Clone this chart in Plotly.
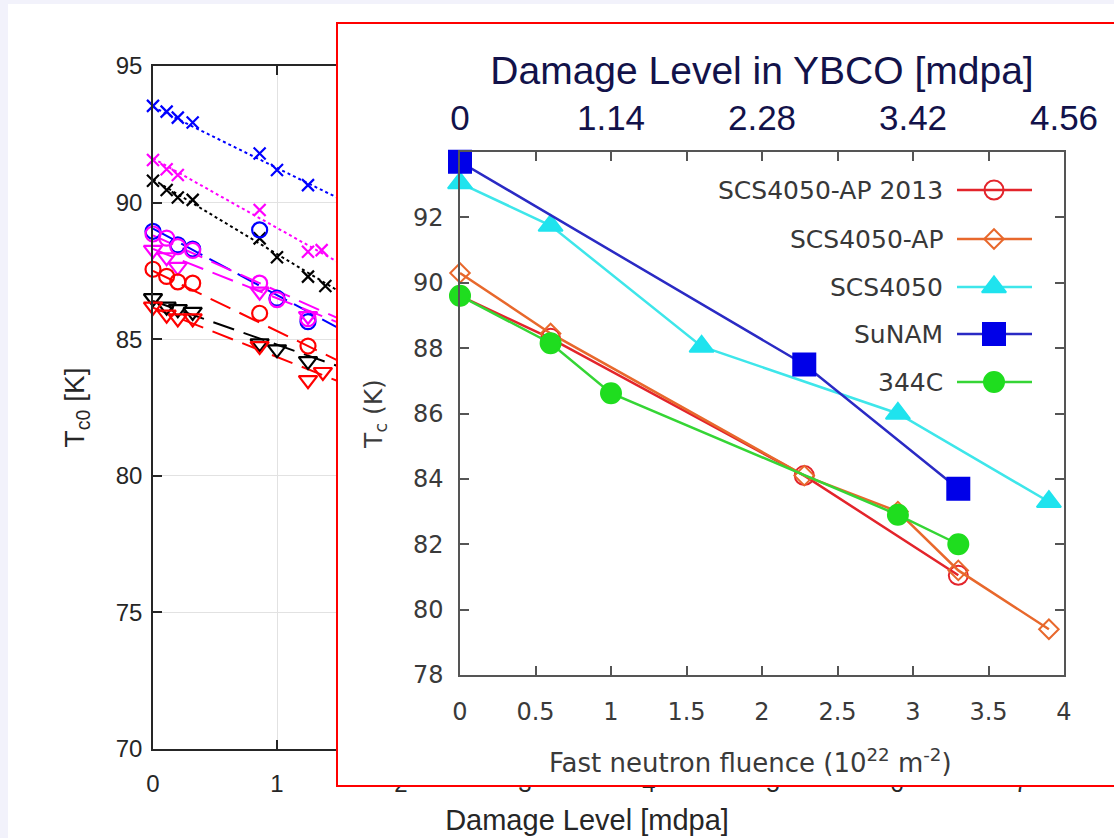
import plotly.graph_objects as go

W, H = 1114, 838

# ---------------- background chart (damage level vs Tc0) ----------------
main_x_ticks = [0, 1, 2, 3, 4, 5, 6, 7]
main_y_ticks = [70, 75, 80, 85, 90, 95]

bx_x = [0, 0.11, 0.2, 0.32, 0.86, 1.0, 1.25]
bx_y = [93.54, 93.33, 93.11, 92.93, 91.80, 91.19, 90.64]
mx_x = [0, 0.11, 0.2, 0.86, 1.25, 1.36]
mx_y = [91.56, 91.22, 91.01, 89.73, 88.2, 88.26]
kx_x = [0, 0.11, 0.2, 0.32, 0.86, 1.0, 1.25, 1.39]
kx_y = [90.80, 90.46, 90.19, 90.10, 88.69, 88.0, 87.29, 86.95]
bo_x = [0, 0.2, 0.32, 0.86, 1.0, 1.25]
bo_y = [88.95, 88.45, 88.3, 89.0, 86.5, 85.64]
mo_x = [0, 0.11, 0.2, 0.32, 0.86, 1.0, 1.25]
mo_y = [88.85, 88.7, 88.39, 88.25, 87.05, 86.45, 85.75]
mv_x = [0, 0.11, 0.2, 0.86, 1.25]
mv_y = [88.27, 88.0, 87.65, 86.74, 85.85]
ro_x = [0, 0.11, 0.2, 0.32, 0.86, 1.25]
ro_y = [87.56, 87.3, 87.1, 87.05, 85.95, 84.75]
kv_x = [0, 0.11, 0.2, 0.32, 0.86, 1.0, 1.25]
kv_y = [86.5, 86.19, 86.1, 86.0, 84.85, 84.63, 84.2]
rv_x = [0, 0.11, 0.2, 0.32, 0.86, 1.25, 1.37]
rv_y = [86.19, 85.9, 85.76, 85.76, 84.75, 83.5, 83.8]

# fitted trend lines (start/end)
fit_x = [0, 1.5]
bx_fit = [93.5, 90.15]
mx_fit = [91.62, 87.8]
kx_fit = [90.85, 86.75]
bo_fit = [89.05, 85.4]
mo_fit = [88.8, 85.75]
mv_fit = [88.3, 85.6]
ro_fit = [87.5, 84.2]
kv_fit = [86.4, 84.0]
rv_fit = [86.15, 83.45]

# ---------------- inset chart (fluence vs Tc) ----------------
inset_names = ["SCS4050-AP 2013", "SCS4050-AP", "SCS4050", "SuNAM", "344C"]
ap13_x = [0, 0.6, 2.28, 3.3]
ap13_y = [89.6, 88.3, 84.1, 81.05]
ap_x = [0, 0.6, 2.28, 2.9, 3.3, 3.9]
ap_y = [90.3, 88.45, 84.1, 83.0, 81.2, 79.4]
scs_x = [0, 0.6, 1.6, 2.9, 3.9]
scs_y = [93.05, 91.75, 88.05, 86.0, 83.3]
sunam_x = [0, 2.28, 3.3]
sunam_y = [93.7, 87.5, 83.7]
c344_x = [0, 0.6, 1.0, 2.9, 3.3]
c344_y = [89.6, 88.15, 86.62, 82.9, 82.0]

inset_x_ticks = [0, 0.5, 1, 1.5, 2, 2.5, 3, 3.5, 4]
inset_x_labels = ["0", "0.5", "1", "1.5", "2", "2.5", "3", "3.5", "4"]
inset_y_ticks = [78, 80, 82, 84, 86, 88, 90, 92]
top_ticks = [0, 1, 2, 3, 4]
top_labels = ["0", "1.14", "2.28", "3.42", "4.56"]
inset_x_title = "Fast neutron fluence (10<sup>22</sup> m<sup>-2</sup>)"

# ---------------- geometry helpers ----------------
def fx(p):
    return p / W

def fy(p):
    return 1 - p / H

MAIN_L, MAIN_R, MAIN_T, MAIN_B = 153, 1021, 66, 749
COV_L, COV_T, COV_B = 338, 24, 785
IN_L, IN_R, IN_T, IN_B = 460, 1064, 152, 675
IN_XR = [0, 4]
IN_YR = [78, 94]

def in_x(p):
    return IN_XR[0] + (p - IN_L) / (IN_R - IN_L) * (IN_XR[1] - IN_XR[0])

def in_y(p):
    return IN_YR[0] + (IN_B - p) / (IN_B - IN_T) * (IN_YR[1] - IN_YR[0])

fig = go.Figure()

BLUE, MAG, BLK, RED = "#0000ff", "#ff00ff", "#000000", "#ff0000"

# fit lines first
for yv, col, dash in [
    (bx_fit, BLUE, "dot"), (mx_fit, MAG, "dot"), (kx_fit, BLK, "dot"),
    (bo_fit, BLUE, "24px,8px"), (mo_fit, MAG, "22px,10px"), (mv_fit, MAG, "22px,10px"),
    (ro_fit, RED, "22px,10px"), (kv_fit, BLK, "22px,10px"), (rv_fit, RED, "22px,10px"),
]:
    fig.add_trace(go.Scatter(x=fit_x, y=yv, mode="lines", cliponaxis=False,
                             line=dict(color=col, width=2, dash=dash),
                             hoverinfo="skip", showlegend=False))

for xv, yv, col, sym, size in [
    (bx_x, bx_y, BLUE, "x-thin", 12), (mx_x, mx_y, MAG, "x-thin", 12),
    (kx_x, kx_y, BLK, "x-thin", 12),
    (bo_x, bo_y, BLUE, "circle-open", 15), (mo_x, mo_y, MAG, "circle-open", 15),
    (mv_x, mv_y, MAG, "triangle-down-open", 16), (ro_x, ro_y, RED, "circle-open", 15),
    (kv_x, kv_y, BLK, "triangle-down-open", 16), (rv_x, rv_y, RED, "triangle-down-open", 16),
]:
    fig.add_trace(go.Scatter(x=xv, y=yv, mode="markers", cliponaxis=False,
                             marker=dict(symbol=sym, size=size, color=col,
                                         line=dict(color=col, width=2.2)),
                             showlegend=False))

# cover subplot (white panel with red frame)
fig.add_trace(go.Scatter(x=[None], y=[None], xaxis="x2", yaxis="y2",
                         hoverinfo="skip", showlegend=False))

# inset series
inset_styles = [
    dict(line="#e3242b", mcol="#e3242b", sym="circle-open", size=19),
    dict(line="#e8682c", mcol="#e8682c", sym="diamond-open", size=15),
    dict(line="#3ee6ea", mcol="#1fe3ee", sym="triangle-up", size=21),
    dict(line="#2a2ac4", mcol="#0000e8", sym="square", size=22),
    dict(line="#35d535", mcol="#1fdd1f", sym="circle", size=20),
]
inset_data = [(ap13_x, ap13_y), (ap_x, ap_y), (scs_x, scs_y), (sunam_x, sunam_y), (c344_x, c344_y)]

for (xv, yv), st, nm in zip(inset_data, inset_styles, inset_names):
    fig.add_trace(go.Scatter(x=xv, y=yv, mode="lines+markers", name=nm,
                             xaxis="x3", yaxis="y3", cliponaxis=False,
                             line=dict(color=st["line"], width=2.5),
                             marker=dict(symbol=st["sym"], size=st["size"], color=st["mcol"],
                                         line=dict(color=st["mcol"], width=2)),
                             showlegend=False))

# hand-made legend (text left of sample, as in the original)
LEG_ROWS = [190, 239, 287, 334, 382]
LEG_L, LEG_R, LEG_M, LEG_TXT = 957, 1032, 994, 945
annotations = []
for st, nm, ry in zip(inset_styles, inset_names, LEG_ROWS):
    yy = in_y(ry)
    fig.add_trace(go.Scatter(x=[in_x(LEG_L), in_x(LEG_R)], y=[yy, yy], mode="lines",
                             xaxis="x3", yaxis="y3", cliponaxis=False,
                             line=dict(color=st["line"], width=2.5),
                             hoverinfo="skip", showlegend=False))
    fig.add_trace(go.Scatter(x=[in_x(LEG_M)], y=[yy], mode="markers",
                             xaxis="x3", yaxis="y3", cliponaxis=False,
                             marker=dict(symbol=st["sym"], size=st["size"], color=st["mcol"],
                                         line=dict(color=st["mcol"], width=2)),
                             hoverinfo="skip", showlegend=False))
    annotations.append(dict(x=in_x(LEG_TXT), y=yy, xref="x3", yref="y3", text=nm,
                            showarrow=False, xanchor="right", yanchor="middle",
                            font=dict(family="DejaVu Sans", size=25, color="#383838")))

# inset x-axis title (slightly left of the axis centre, as in the original)
annotations.append(dict(x=in_x(750), y=fy(761), xref="x3", yref="paper",
                        text=inset_x_title, showarrow=False,
                        xanchor="center", yanchor="middle",
                        font=dict(family="DejaVu Sans", size=26, color="#3a3a3a")))

# dummy trace for the top (damage level) axis
fig.add_trace(go.Scatter(x=[None], y=[None], xaxis="x4", yaxis="y3",
                         hoverinfo="skip", showlegend=False))

MAIN_FONT = dict(family="Liberation Sans", size=24, color="#262626")
INSET_FONT = dict(family="DejaVu Sans", size=24, color="#3a3a3a")
NAVY = "#12124a"

fig.update_layout(
    width=W, height=H, autosize=False,
    margin=dict(l=0, r=0, t=0, b=0, pad=0),
    paper_bgcolor="#f2f2fb", plot_bgcolor="white",
    showlegend=False,
    shapes=[dict(type="rect", xref="paper", yref="paper", x0=fx(8), x1=1,
                 y0=0, y1=fy(4), fillcolor="white", line_width=0, layer="below")],
    annotations=annotations,
    xaxis=dict(domain=[fx(MAIN_L), fx(MAIN_R)], range=[0, 7], anchor="y", automargin=False,
               tickvals=main_x_ticks, ticks="inside", ticklen=9, tickwidth=1.5,
               tickcolor="#262626", showline=True, linecolor="#262626", linewidth=1.5,
               mirror="ticks", showgrid=True, gridcolor="#e2e2e2", gridwidth=1.2,
               zeroline=False, tickfont=MAIN_FONT, ticklabelstandoff=12,
               title=dict(text="Damage Level [mdpa]",
                          font=dict(family="Liberation Sans", size=29, color="#262626"),
                          standoff=14)),
    yaxis=dict(domain=[fy(MAIN_B), fy(MAIN_T)], range=[70, 95], anchor="x", automargin=False,
               tickvals=main_y_ticks, ticks="inside", ticklen=9, tickwidth=1.5,
               tickcolor="#262626", showline=True, linecolor="#262626", linewidth=1.5,
               mirror="ticks", showgrid=True, gridcolor="#e2e2e2", gridwidth=1.2,
               zeroline=False, tickfont=MAIN_FONT, ticklabelstandoff=4,
               title=dict(text="T<sub>c0</sub> [K]",
                          font=dict(family="Liberation Sans", size=28, color="#262626"),
                          standoff=23)),
    xaxis2=dict(domain=[fx(COV_L), 1], range=[0, 1], anchor="y2", automargin=False,
                showticklabels=False, ticks="", showgrid=False, zeroline=False,
                showline=True, linecolor="#ff0000", linewidth=2, mirror=True),
    yaxis2=dict(domain=[fy(COV_B), fy(COV_T)], range=[0, 1], anchor="x2", automargin=False,
                showticklabels=False, ticks="", showgrid=False, zeroline=False,
                showline=True, linecolor="#ff0000", linewidth=2, mirror=False),
    xaxis3=dict(domain=[fx(IN_L), fx(IN_R)], range=IN_XR, anchor="y3", automargin=False,
                tickvals=inset_x_ticks, ticktext=inset_x_labels,
                ticks="inside", ticklen=9, tickwidth=1.5, tickcolor="#555555",
                showline=True, linecolor="#555555", linewidth=1.5, mirror="ticks",
                showgrid=False, zeroline=False, tickfont=INSET_FONT,
                ticklabelstandoff=14),
    yaxis3=dict(domain=[fy(IN_B), fy(IN_T)], range=IN_YR, anchor="x3", automargin=False,
                tickvals=inset_y_ticks, ticks="inside", ticklen=9, tickwidth=1.5,
                tickcolor="#555555", showline=True, linecolor="#555555", linewidth=1.5,
                mirror="ticks", showgrid=False, zeroline=False, tickfont=INSET_FONT,
                ticklabelstandoff=10,
                title=dict(text="T<sub>c</sub> (K)",
                           font=dict(family="DejaVu Sans", size=25, color="#3a3a3a"),
                           standoff=23)),
    xaxis4=dict(overlaying="x3", anchor="y3", side="top", range=IN_XR, automargin=False,
                tickvals=top_ticks, ticktext=top_labels, ticks="", showline=False,
                showgrid=False, zeroline=False, ticklabelstandoff=14,
                tickfont=dict(family="Liberation Sans", size=35, color=NAVY),
                title=dict(text="Damage Level in YBCO [mdpa]",
                           font=dict(family="Liberation Sans", size=39, color=NAVY),
                           standoff=1)),
)

fig.write_html("out.html", config={"responsive": False, "displayModeBar": False},
               post_script="document.body.style.margin='0';document.body.style.overflow='hidden';")
